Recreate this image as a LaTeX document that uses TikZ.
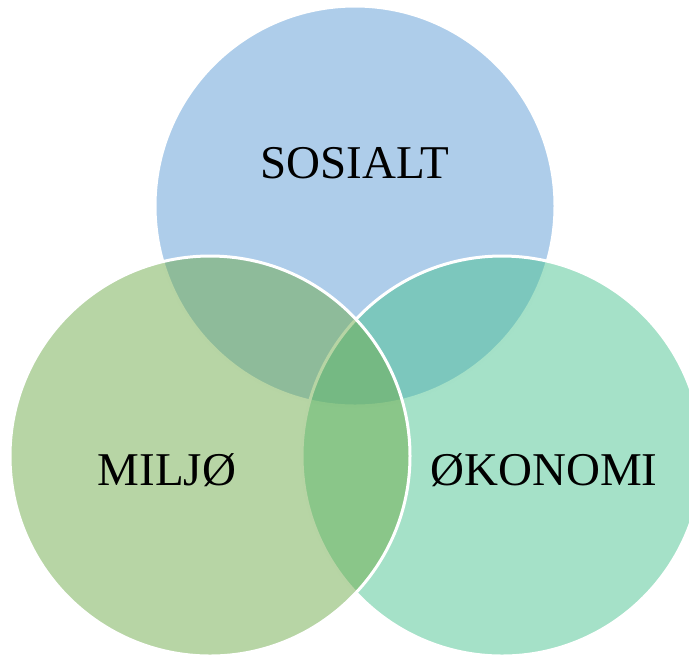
\documentclass[tikz,border=0pt]{standalone}
\usepackage{fontspec}
\setmainfont{Liberation Serif}
\usetikzlibrary{positioning}

\definecolor{sosialblue}{RGB}{93,155,213}
\definecolor{okonomimint}{RGB}{75,195,145}
\definecolor{miljogreen}{RGB}{111,171,75}

\tikzset{
  blob/.style={draw=white, line width=1.5pt, fill opacity=0.5, draw opacity=1},
  lbl/.style={font=\fontsize{23.5}{28}\selectfont, text=black, inner sep=0pt}
}

\begin{document}
\begin{tikzpicture}[x=0.5pt,y=-0.5pt]
  \useasboundingbox (0,0) rectangle (689,655);
  \coordinate(S) at (355,206);
  \coordinate(O) at (502,456);
  \coordinate(M) at (210,456);

\draw[blob, fill=sosialblue] (S) circle[radius=100pt];
\draw[blob, fill=okonomimint] (O) circle[radius=100pt];
\draw[blob, fill=miljogreen] (M) circle[radius=100pt];

\node[lbl] (sosialt) at (355,163) {SOSIALT};
\node[lbl] (miljo) at (167,470) {MILJØ};
\node[lbl] (okonomi) at (544,470) {ØKONOMI};
\end{tikzpicture}
\end{document}
